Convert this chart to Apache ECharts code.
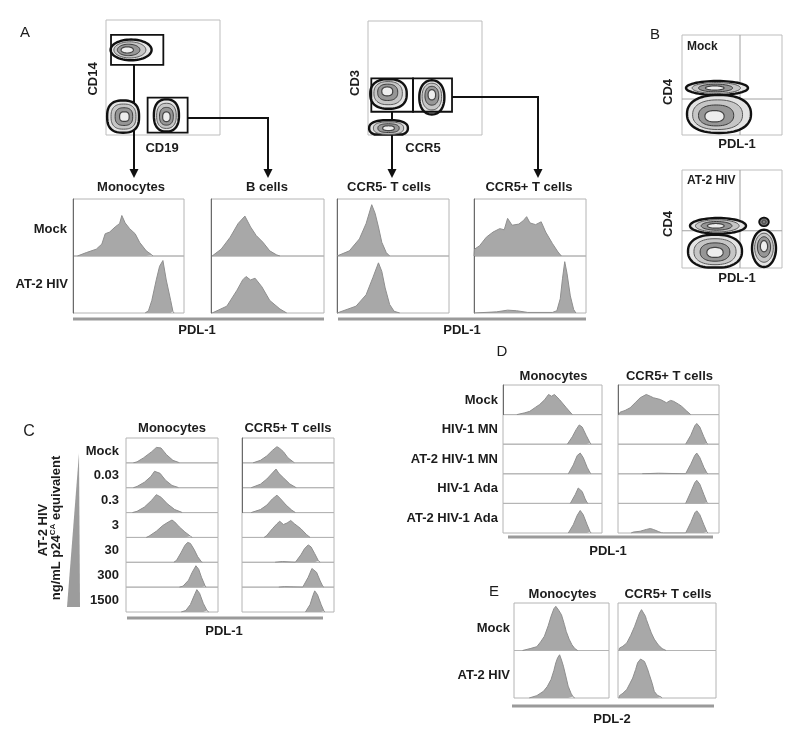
<!DOCTYPE html>
<html><head><meta charset="utf-8">
<script src="https://cdn.jsdelivr.net/npm/echarts/dist/echarts.min.js"></script>
<style>html,body{margin:0;padding:0;background:#fff}#c{width:800px;height:733px}</style>
</head><body><div id="c"></div>
<script>
// ---------------- DATA ----------------
// Panel A histograms ([PDL-1 position %, height %])
const aColumns = ['Monocytes', 'B cells', 'CCR5- T cells', 'CCR5+ T cells'];
const aRows = ['Mock', 'AT-2 HIV'];
const aMonoMock = [[4,0],[5,2],[12,6],[21,12],[26,21],[29,39],[33,42],[38,51],[42,57],[44,71],[47,58],[51,48],[56,39],[60,24],[66,9],[71,2],[72,0]];
const aMonoHiv = [[65,0],[68,4],[71,22],[75,58],[78,82],[81,92],[84,58],[88,22],[90,3],[91,0]];
const aBMock = [[1,0],[2,3],[9,12],[17,33],[24,57],[30,70],[35,51],[40,36],[46,24],[52,9],[58,2],[61,0]];
const aBHiv = [[1,0],[2,2],[14,12],[23,40],[28,58],[31,64],[35,58],[39,61],[45,46],[52,22],[61,7],[67,0]];
const aCcr5nMock = [[0,0],[1,3],[11,9],[20,30],[26,57],[31,90],[34,75],[37,51],[40,24],[44,6],[47,0]];
const aCcr5nHiv = [[0,0],[1,3],[17,12],[26,32],[32,62],[37,88],[40,73],[43,44],[47,15],[51,3],[56,0]];
const aCcr5pMock = [[0,0],[0.5,12],[5,18],[11,33],[17,42],[23,48],[27,46],[30,66],[34,54],[40,56],[44,62],[47,69],[50,58],[55,55],[60,60],[64,42],[70,22],[75,7],[78,0]];
const aCcr5pHiv = [[0,0],[1,2],[20,2],[30,5],[38,4],[48,1],[70,1],[74,4],[77,25],[79,60],[81,90],[83,70],[86,30],[89,6],[91,0]];

// Panel A dot plots ([x, y, rx, ry, shape exponent, core dx, core dy]) and gates ([x1, y1, x2, y2])
const cd14Blobs = [[22,74,18,9,2,-3,0],[15,16,14,14,2.6,1,0],[53,17,11,14,2.4,0,-1]];
const cd14Gates = [[4.4,61,50.3,87],[36.5,2,71.6,32.5]];
const cd3Blobs = [[18,6,17,7,2.5,0,0],[18,36,16,13,2.4,-1,2],[56,33,11,15,2.2,0,2]];
const cd3Gates = [[2.9,20.4,39.5,49.6],[39.5,20.4,73.7,49.6]];

// Panel B dot plots
const bMockBlobs = [[35,47,31,7,2,-2,0],[37,21,32,19,2.3,-4,-2]];
const bHivBlobs = [[36,43,28,8,2,-2,0],[33,17,27,17,2.3,0,-1],[82,20,12,19,2,0,2],[82,47,4.5,4,2,0,0]];
const bMockQuadrant = [[58,36]];
const bHivQuadrant = [[58,38]];

// Panel C
const cColumns = ['Monocytes', 'CCR5+ T cells'];
const cRows = ['Mock', '0.03', '0.3', '3', '30', '300', '1500'];
const cMonoMock = [[8,0],[12,4],[19,20],[28,45],[33,62],[35,66],[38,60],[44,33],[51,10],[57,2],[58,0]];
const cMono003 = [[8,0],[12,5],[20,22],[27,45],[31,66],[33,72],[37,58],[43,30],[50,9],[56,2],[57,0]];
const cMono03 = [[7,0],[12,5],[20,22],[28,50],[33,72],[35,76],[38,62],[45,35],[53,12],[60,2],[61,0]];
const cMono3 = [[22,0],[25,5],[33,25],[40,48],[46,62],[50,70],[53,62],[58,42],[64,22],[70,5],[72,0]];
const cMono30 = [[52,0],[55,8],[60,40],[64,68],[67,80],[70,76],[74,52],[78,22],[82,2],[83,0]];
const cMono300 = [[58,0],[62,4],[68,28],[72,60],[76,86],[79,72],[82,40],[86,5],[87,0]];
const cMono1500 = [[60,0],[65,6],[70,30],[74,65],[77,90],[80,75],[84,35],[88,6],[90,0]];
const cTMock = [[12,0],[13,3],[20,10],[27,28],[33,50],[38,65],[41,58],[45,45],[50,20],[56,3],[57,0]];
const cT003 = [[10,0],[12,4],[20,14],[27,35],[32,55],[37,75],[40,58],[45,40],[52,15],[58,2],[59,0]];
const cT03 = [[10,0],[12,3],[20,12],[27,30],[33,55],[38,70],[42,55],[48,30],[54,10],[58,0]];
const cT3 = [[24,0],[27,8],[33,35],[38,55],[41,65],[45,52],[49,58],[53,68],[57,55],[64,35],[70,12],[74,0]];
const cT30 = [[36,0],[38,3],[44,3],[46,0],[58,0],[60,6],[64,30],[68,55],[72,70],[75,62],[79,35],[83,6],[85,0]];
const cT300 = [[40,0],[42,3],[46,2],[48,0],[66,0],[68,8],[72,40],[76,75],[78,80],[81,60],[85,25],[88,2],[89,0]];
const cT1500 = [[69,0],[71,6],[74,30],[77,65],[79,85],[82,70],[86,30],[89,4],[90,0]];

// Panel D
const dColumns = ['Monocytes', 'CCR5+ T cells'];
const dRows = ['Mock', 'HIV-1 MN', 'AT-2 HIV-1 MN', 'HIV-1 Ada', 'AT-2 HIV-1 Ada'];
const dMonoMock = [[14,0],[15,2],[22,6],[27,11],[33,25],[37,34],[42,50],[46,68],[49,62],[52,68],[57,51],[64,23],[70,0]];
const dMonoMN = [[65,0],[66,4],[70,25],[74,50],[77,65],[80,58],[84,30],[88,4],[89,0]];
const dMonoAtMN = [[66,0],[67,5],[71,30],[75,62],[78,70],[81,55],[85,22],[88,3],[89,0]];
const dMonoAda = [[68,0],[69,4],[73,30],[76,52],[77,55],[80,40],[83,15],[85,2],[86,0]];
const dMonoAtAda = [[66,0],[67,4],[71,28],[75,60],[78,76],[81,62],[85,28],[88,4],[89,0]];
const dTMock = [[1,0],[2,8],[7,14],[12,23],[17,40],[22,57],[28,68],[32,62],[35,57],[42,51],[48,40],[52,48],[55,45],[60,35],[63,28],[68,12],[72,0]];
const dTMN = [[67,0],[68,4],[72,30],[76,62],[78,70],[81,58],[85,25],[88,3],[89,0]];
const dTAtMN = [[24,0],[25,2],[40,2],[41,0],[67,0],[68,4],[72,32],[76,62],[78,70],[81,55],[85,22],[88,3],[89,0]];
const dTAda = [[67,0],[68,5],[72,38],[76,70],[78,78],[81,65],[85,30],[88,4],[89,0]];
const dTAtAda = [[13,0],[15,3],[22,6],[28,12],[32,15],[35,12],[40,5],[43,1],[45,0],[67,0],[68,5],[72,35],[76,68],[78,75],[81,62],[85,28],[88,4],[89,0]];

// Panel E
const eColumns = ['Monocytes', 'CCR5+ T cells'];
const eRows = ['Mock', 'AT-2 HIV'];
const eMonoMock = [[9,0],[10,1],[17,4],[24,8],[28,18],[32,30],[36,52],[39,72],[42,88],[44,93],[47,85],[50,75],[53,55],[55,40],[58,24],[61,12],[64,4],[66,1],[67,0]];
const eMonoHiv = [[16,0],[17,1],[24,5],[31,14],[35,24],[39,39],[42,58],[44,74],[46,85],[48,91],[50,80],[52,67],[55,42],[57,25],[60,10],[62,3],[64,0]];
const eTMock = [[1,0],[1.5,5],[5,9],[9,16],[13,32],[17,51],[20,68],[22,79],[24,86],[26,90],[28,72],[29,65],[32,48],[34,37],[37,24],[41,12],[45,4],[48,1],[49,0]];
const eTHiv = [[1,0],[1.5,5],[5,10],[9,18],[12,30],[15,42],[18,60],[20,74],[23,82],[25,80],[27,77],[30,62],[32,49],[35,30],[37,14],[40,6],[44,2],[45,0]];

// ---------------- BUILD ----------------
const FONT = 'bold 13px "Liberation Sans", Arial, sans-serif';
const TXT = '#1c1c1c';
const grids = [], xAxes = [], yAxes = [], series = [], graphic = [];

function addGrid(l, t, w, h, border) {
  const i = grids.length;
  grids.push({left: l, top: t, width: w, height: h, show: true, borderColor: border || '#b4b4b4', borderWidth: 1, backgroundColor: 'transparent'});
  xAxes.push({gridIndex: i, type: 'value', min: 0, max: 100, show: false});
  yAxes.push({gridIndex: i, type: 'value', min: 0, max: 100, show: false});
  return i;
}
function addHist(l, t, w, h, data, darkLeft) {
  const i = addGrid(l, t, w, h);
  if (darkLeft) {
    yAxes[i] = {gridIndex: i, type: 'value', min: 0, max: 100, axisLine: {show: true, lineStyle: {color: '#6a6a6a', width: 1}}, axisTick: {show: false}, axisLabel: {show: false}, splitLine: {show: false}};
  }
  series.push({type: 'line', xAxisIndex: i, yAxisIndex: i, data: data, symbol: 'none', silent: true,
    lineStyle: {color: '#8e8e8e', width: 1}, areaStyle: {color: '#a8a8a8', opacity: 1}});
}
function ringPoints(api, cx, cy, rx, ry, n, s) {
  const pts = [];
  for (let k = 0; k < 60; k++) {
    const t = k / 60 * 2 * Math.PI, c = Math.cos(t), si = Math.sin(t);
    let px = cx + s * rx * Math.sign(c) * Math.pow(Math.abs(c), 2 / n);
    let py = cy + s * ry * Math.sign(si) * Math.pow(Math.abs(si), 2 / n);
    px = Math.max(0.5, Math.min(99.5, px)); py = Math.max(0.5, Math.min(99.5, py));
    pts.push(api.coord([px, py]));
  }
  return pts;
}
const LEVELS = [[1, '#e4e4e4', '#111', 2.4], [0.78, '#c6c6c6', '#5a5a5a', 1], [0.55, '#969696', '#3a3a3a', 1], [0.3, '#ededed', '#444', 1.2]];
function addDotPlot(l, t, w, h, blobs, gates, quad) {
  const i = addGrid(l, t, w, h, '#bdbdbd');
  series.push({type: 'custom', xAxisIndex: i, yAxisIndex: i, data: blobs, silent: true, z: 2,
    renderItem: function (params, api) {
      const cx = api.value(0), cy = api.value(1), rx = api.value(2), ry = api.value(3), n = api.value(4);
      const dx = api.value(5) || 0, dy = api.value(6) || 0;
      return {type: 'group', children: LEVELS.map(function (L) {
        const f = 1 - L[0];
        return {type: 'polygon', shape: {points: ringPoints(api, cx + dx * f * 1.6, cy + dy * f * 1.6, rx, ry, n, L[0])}, style: {fill: L[1], stroke: L[2], lineWidth: L[3]}};
      })};
    }});
  if (gates) series.push({type: 'custom', xAxisIndex: i, yAxisIndex: i, data: gates, silent: true, z: 4,
    renderItem: function (params, api) {
      const p1 = api.coord([api.value(0), api.value(3)]), p2 = api.coord([api.value(2), api.value(1)]);
      return {type: 'rect', shape: {x: p1[0], y: p1[1], width: p2[0] - p1[0], height: p2[1] - p1[1]}, style: {fill: 'none', stroke: '#111', lineWidth: 1.8}};
    }});
  if (quad) series.push({type: 'custom', xAxisIndex: i, yAxisIndex: i, data: quad, silent: true, z: 1,
    renderItem: function (params, api) {
      const qx = api.value(0), qy = api.value(1);
      const a = api.coord([qx, 0]), b = api.coord([qx, 100]), c = api.coord([0, qy]), d = api.coord([100, qy]);
      return {type: 'group', children: [
        {type: 'line', shape: {x1: a[0], y1: a[1], x2: b[0], y2: b[1]}, style: {stroke: '#a0a0a0', lineWidth: 1}},
        {type: 'line', shape: {x1: c[0], y1: c[1], x2: d[0], y2: d[1]}, style: {stroke: '#a0a0a0', lineWidth: 1}}]};
    }});
}
function txt(x, y, text, opt) {
  opt = opt || {};
  graphic.push({type: 'text', x: x, y: y, rotation: opt.rot || 0, z: 10, silent: true,
    style: {text: text, font: opt.font || FONT, fill: TXT, align: opt.align || 'center', verticalAlign: 'middle',
      textAlign: opt.align || 'center', textVerticalAlign: 'middle', rich: opt.rich}});
}
function line(pts, w, color) {
  graphic.push({type: 'polyline', silent: true, shape: {points: pts}, style: {stroke: color || '#111', lineWidth: w || 2, fill: null}});
}
function arrowHead(x, y) {
  graphic.push({type: 'polygon', silent: true, shape: {points: [[x - 4.5, y - 9], [x + 4.5, y - 9], [x, y]]}, style: {fill: '#111'}});
}

// ---- Panel A ----
txt(25, 33, 'A', {font: '15px "Liberation Sans", Arial, sans-serif'});
addDotPlot(106, 20, 114, 115, cd14Blobs, cd14Gates);
addDotPlot(368, 21, 114, 114, cd3Blobs, cd3Gates);
txt(93, 79, 'CD14', {rot: Math.PI / 2});
txt(162, 148, 'CD19');
txt(355, 83, 'CD3', {rot: Math.PI / 2});
txt(423, 148, 'CCR5');
line([[134, 65], [134, 170]]); arrowHead(134, 178);
line([[188, 118], [268, 118], [268, 170]]); arrowHead(268, 178);
line([[392, 112], [392, 170]]); arrowHead(392, 178);
line([[452, 97], [538, 97], [538, 170]]); arrowHead(538, 178);

const aColX = [73, 211, 337, 474], aColW = [111, 113, 112, 112], aTitleX = [131, 267, 389, 529];
const aData = [[aMonoMock, aMonoHiv], [aBMock, aBHiv], [aCcr5nMock, aCcr5nHiv], [aCcr5pMock, aCcr5pHiv]];
aColumns.forEach(function (name, c) {
  txt(aTitleX[c], 187, name);
  aRows.forEach(function (r, k) { addHist(aColX[c], 199 + k * 57, aColW[c], 57, aData[c][k], true); });
});
txt(67, 229, aRows[0], {align: 'right'});
txt(68, 284, aRows[1], {align: 'right'});
line([[73, 319], [324, 319]], 3, '#9a9a9a');
line([[338, 319], [586, 319]], 3, '#9a9a9a');
txt(197, 330, 'PDL-1');
txt(462, 330, 'PDL-1');

// ---- Panel B ----
txt(655, 35, 'B', {font: '15px "Liberation Sans", Arial, sans-serif'});
addDotPlot(682, 35, 100, 100, bMockBlobs, null, bMockQuadrant);
addDotPlot(682, 170, 100, 98, bHivBlobs, null, bHivQuadrant);
txt(687, 47, 'Mock', {align: 'left', font: 'bold 12px "Liberation Sans", Arial, sans-serif'});
txt(687, 181, 'AT-2 HIV', {align: 'left', font: 'bold 12px "Liberation Sans", Arial, sans-serif'});
txt(668, 92, 'CD4', {rot: Math.PI / 2});
txt(668, 224, 'CD4', {rot: Math.PI / 2});
txt(737, 144, 'PDL-1');
txt(737, 278, 'PDL-1');

// ---- Panel C ----
txt(29, 432, 'C', {font: '16px "Liberation Sans", Arial, sans-serif'});
graphic.push({type: 'polygon', silent: true, shape: {points: [[79, 453], [80, 607], [67, 607]]}, style: {fill: '#9c9c9c'}});
txt(43, 530, 'AT-2 HIV', {rot: Math.PI / 2});
txt(56, 528, '{a|ng/mL p24}{s|CA}{a| equivalent}', {rot: Math.PI / 2, rich: {
  a: {font: FONT, fill: TXT},
  s: {font: 'bold 8px "Liberation Sans", Arial, sans-serif', fill: TXT, verticalAlign: 'top', padding: [0, 0, 6, 0]}}});
const cData = [[cMonoMock, cMono003, cMono03, cMono3, cMono30, cMono300, cMono1500], [cTMock, cT003, cT03, cT3, cT30, cT300, cT1500]];
const cColX = [126, 242], cRowH = 174 / 7;
cColumns.forEach(function (name, c) {
  txt(cColX[c] + 46, 428, name);
  cRows.forEach(function (r, k) { addHist(cColX[c], 438 + k * cRowH, 92, cRowH, cData[c][k], c === 1 && k < 3); });
});
cRows.forEach(function (r, k) { txt(119, 451 + k * cRowH, r, {align: 'right'}); });
line([[127, 618], [323, 618]], 3, '#9a9a9a');
txt(224, 631, 'PDL-1');

// ---- Panel D ----
txt(502, 352, 'D', {font: '15px "Liberation Sans", Arial, sans-serif'});
const dData = [[dMonoMock, dMonoMN, dMonoAtMN, dMonoAda, dMonoAtAda], [dTMock, dTMN, dTAtMN, dTAda, dTAtAda]];
const dColX = [503, 618], dColW = [99, 101], dRowH = 148 / 5;
dColumns.forEach(function (name, c) {
  txt(dColX[c] + dColW[c] / 2 + 1, 376, name);
  dRows.forEach(function (r, k) { addHist(dColX[c], 385 + k * dRowH, dColW[c], dRowH, dData[c][k], k === 0); });
});
dRows.forEach(function (r, k) { txt(498, 400 + k * dRowH, r, {align: 'right'}); });
line([[508, 537], [713, 537]], 3, '#9a9a9a');
txt(608, 551, 'PDL-1');

// ---- Panel E ----
txt(494, 592, 'E', {font: '15px "Liberation Sans", Arial, sans-serif'});
const eData = [[eMonoMock, eMonoHiv], [eTMock, eTHiv]];
const eColX = [514, 618], eColW = [95, 98];
eColumns.forEach(function (name, c) {
  txt(eColX[c] + eColW[c] / 2 + 1, 594, name);
  eRows.forEach(function (r, k) { addHist(eColX[c], 603 + k * 47.5, eColW[c], 47.5, eData[c][k], false); });
});
txt(510, 628, eRows[0], {align: 'right'});
txt(510, 675, eRows[1], {align: 'right'});
line([[512, 706], [714, 706]], 3, '#9a9a9a');
txt(612, 719, 'PDL-2');

const chart = echarts.init(document.getElementById('c'), null, {renderer: 'canvas'});
chart.setOption({animation: false, backgroundColor: '#fff', grid: grids, xAxis: xAxes, yAxis: yAxes, series: series, graphic: graphic});
</script></body></html>
